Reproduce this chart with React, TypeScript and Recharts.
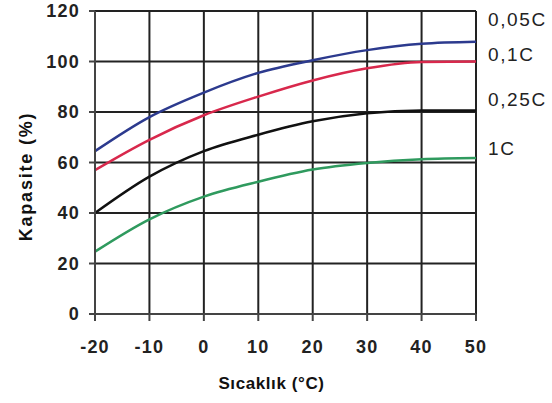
import {
	CartesianGrid,
	Legend,
	Line,
	LineChart,
	XAxis,
	YAxis,
} from "recharts"


// temperature (°C) and capacity (%) per discharge rate
const temps = [-20, -10, 0, 10, 20, 30, 40, 50]
const cap005 = [64.5, 78, 87.7, 95.5, 100.5, 104.5, 107, 107.8]
const cap01 = [57, 69, 78.7, 86.1, 92.5, 97.3, 99.8, 100]
const cap025 = [40, 54.4, 64.5, 71, 76.3, 79.5, 80.6, 80.6]
const cap1 = [24.7, 37.5, 46.5, 52.4, 57.2, 59.8, 61.3, 61.8]

const xTicks = [-20, -10, 0, 10, 20, 30, 40, 50]
const yTicks = [0, 20, 40, 60, 80, 100, 120]

const seriesNames = ["0,05C", "0,1C", "0,25C", "1C"]
const seriesColors = ["#2c3a8e", "#d8284c", "#111111", "#2f9a5e"]

const data = temps.map((t, i) => ({
	t,
	s0: cap005[i],
	s1: cap01[i],
	s2: cap025[i],
	s3: cap1[i],
}))

const font = '"Liberation Sans", Arial, sans-serif'
const tickStyle = {
	fontSize: 18,
	fontWeight: 700,
	fill: "#222",
	fontFamily: font,
	letterSpacing: 1.2,
}

// right-hand labels, top offsets in px
const labelTops = [9, 44, 89, 138]

function RateLabels() {
	return (
		<div style={{ position: "relative", width: 67, height: 170 }}>
			{seriesNames.map((n, i) => (
				<div
					key={n}
					style={{
						position: "absolute",
						left: 0,
						top: labelTops[i],
						fontSize: 19,
						fontFamily: font,
						color: "#222",
						lineHeight: "21px",
						letterSpacing: 1.6,
					}}
				>
					{n}
				</div>
			))}
		</div>
	)
}

export default function App() {
	return (
		<div style={{ position: "absolute", left: 0, top: 0, background: "#fff" }}>
			<LineChart
				width={552}
				height={403}
				data={data}
				margin={{ top: 11, right: 76, bottom: 0, left: 0 }}
			>
				<CartesianGrid stroke="#222" strokeWidth={2} />

				<XAxis
					dataKey="t"
					type="number"
					domain={[-20, 50]}
					ticks={xTicks}
					height={89}
					tickSize={7}
					tickMargin={19}
					tick={tickStyle}
					stroke="#444"
					strokeWidth={2}
					tickFormatter={v => String(v)}
					label={{
						content: ({ viewBox }: any) => (
							<text
								x={viewBox.x + viewBox.width / 2 - 14}
								y={389}
								textAnchor="middle"
								fontSize={17}
								fontWeight={700}
								letterSpacing={0.6}
								fontFamily={font}
								fill="#111"
							>
								Sıcaklık (°C)
							</text>
						),
					}}
				/>

				<YAxis
					type="number"
					domain={[0, 120]}
					ticks={yTicks}
					width={95}
					tickSize={6}
					tickMargin={9}
					tick={tickStyle}
					stroke="#444"
					strokeWidth={2}
					label={{
						content: ({ viewBox }: any) => {
							const cy = viewBox.y + viewBox.height / 2 + 14
							return (
								<text
									x={26}
									y={cy}
									transform={`rotate(-90 26 ${cy})`}
									textAnchor="middle"
									dominantBaseline="central"
									fontSize={18}
									fontWeight={700}
									letterSpacing={1.8}
									fontFamily={font}
									fill="#111"
								>
									Kapasite (%)
								</text>
							)
						},
					}}
				/>

				{seriesNames.map((n, i) => (
					<Line
						key={n}
						name={n}
						dataKey={`s${i}`}
						type="monotone"
						stroke={seriesColors[i]}
						strokeWidth={2.5}
						dot={false}
						isAnimationActive={false}
					/>
				))}

				<Legend
					layout="vertical"
					align="center"
					verticalAlign="middle"
					wrapperStyle={{ left: 488, top: 0, width: 64 }}
					content={() => <RateLabels />}
				/>
			</LineChart>
		</div>
	)
}
